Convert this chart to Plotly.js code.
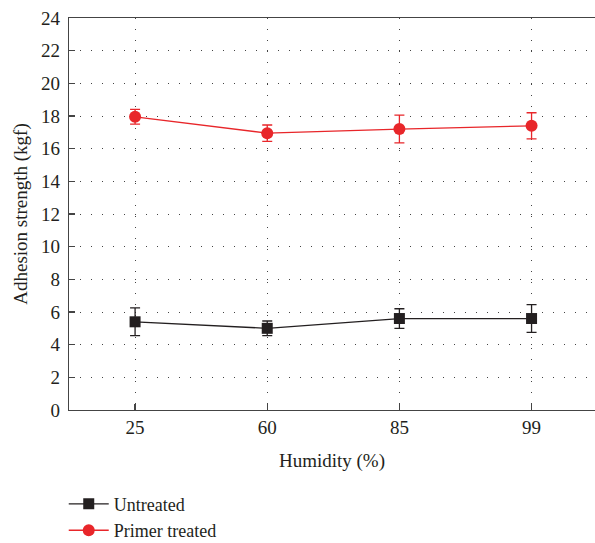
<!DOCTYPE html>
<html>
<head>
<meta charset="utf-8">
<script src="https://cdn.plot.ly/plotly-3.0.1.min.js"></script>
<style>html,body{margin:0;padding:0;background:#fff;}#chart{width:595px;height:543px;}</style>
</head>
<body>
<div id="chart"></div>
<script>
const humidity = ['25', '60', '85', '99'];
const untreated = [5.4, 5.0, 5.6, 5.6];
const untreatedErr = [0.85, 0.45, 0.6, 0.85];
const primer = [17.95, 16.95, 17.2, 17.4];
const primerErr = [0.45, 0.5, 0.85, 0.8];
const yTicks = [0, 2, 4, 6, 8, 10, 12, 14, 16, 18, 20, 22, 24];

const font = 'Liberation Serif, Times New Roman, serif';
const data = [
  {
    x: humidity, y: untreated, name: 'Untreated', type: 'scatter', mode: 'lines+markers',
    line: {color: '#231f20', width: 1.3},
    marker: {symbol: 'square', size: 11, color: '#231f20'},
    error_y: {type: 'data', array: untreatedErr, visible: true, color: '#231f20', thickness: 1.3, width: 5}
  },
  {
    x: humidity, y: primer, name: 'Primer treated', type: 'scatter', mode: 'lines+markers',
    line: {color: '#e8262a', width: 1.3},
    marker: {symbol: 'circle', size: 12, color: '#e8262a'},
    error_y: {type: 'data', array: primerErr, visible: true, color: '#e8262a', thickness: 1.3, width: 5}
  }
];
const layout = {
  width: 595, height: 543,
  margin: {l: 69, r: 0, t: 18, b: 133, autoexpand: false},
  paper_bgcolor: '#fff', plot_bgcolor: '#fff',
  font: {family: font, size: 19, color: '#231f20'},
  showlegend: true,
  legend: {x: -0.01, xanchor: 'left', y: -0.193, yanchor: 'top', orientation: 'v',
           font: {family: font, size: 18, color: '#231f20'}, bgcolor: 'rgba(0,0,0,0)', tracegroupgap: 0, itemwidth: 40},
  xaxis: {
    type: 'category', categoryarray: humidity, range: [-0.5, 3.48],
    showline: true, linecolor: '#444', linewidth: 1.3, mirror: true,
    ticks: 'inside', ticklen: 6, tickcolor: '#444', tickwidth: 1.3,
    showgrid: true, gridcolor: '#444', griddash: '1px,10px', gridwidth: 1,
    title: {text: 'Humidity (%)', font: {family: font, size: 19}, standoff: 16},
    tickfont: {family: font, size: 19}, zeroline: false
  },
  yaxis: {
    range: [0, 24], tickvals: yTicks, ticktext: yTicks.map(String),
    showline: true, linecolor: '#444', linewidth: 1.3,
    ticks: 'inside', ticklen: 6, tickcolor: '#444', tickwidth: 1.3,
    showgrid: true, gridcolor: '#444', griddash: '1px,10px', gridwidth: 1,
    ticklabelstandoff: 4,
    title: {text: 'Adhesion strength (kgf)', font: {family: font, size: 19}, standoff: 8},
    tickfont: {family: font, size: 19}, zeroline: false
  }
};
Plotly.newPlot('chart', data, layout, {displayModeBar: false, staticPlot: true});
</script>
</body>
</html>
